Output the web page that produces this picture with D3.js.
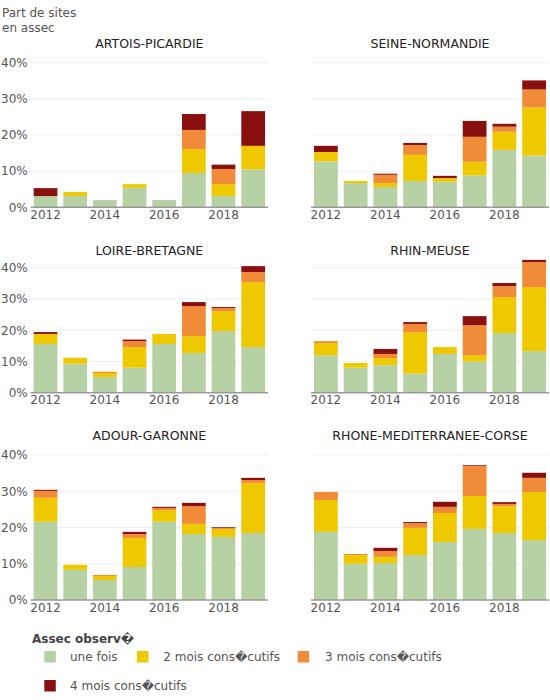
<!DOCTYPE html>
<html><head><meta charset="utf-8">
<script src="https://cdn.jsdelivr.net/npm/d3@7"></script>
<style>
body{margin:0;background:#fff;}
svg{font-family:"DejaVu Sans",Verdana,sans-serif;}
</style></head>
<body><svg id="c" width="550" height="700"></svg>
<script>
const years = [2012,2013,2014,2015,2016,2017,2018,2019];
const xTicks = [2012,2014,2016,2018];
const yTicks = [0,0.1,0.2,0.3,0.4];
const regions = ["ARTOIS-PICARDIE","SEINE-NORMANDIE","LOIRE-BRETAGNE","RHIN-MEUSE","ADOUR-GARONNE","RHONE-MEDITERRANEE-CORSE"];
const seriesNames = ["une fois","2 mois cons\uFFFDcutifs","3 mois cons\uFFFDcutifs","4 mois cons\uFFFDcutifs"];
const seriesColors = ["#b6d1a3","#efc900","#f08c38","#8a1010"];
const legendTitle = "Assec observ\uFFFD";
// values in % per region (order of regions), per year
const uneFois = [
  [3.1,3.1,2.0,5.4,2.0,9.5,3.1,10.5],
  [12.7,6.7,5.6,7.3,7.1,8.8,15.9,14.3],
  [15.6,9.3,5.0,8.0,15.6,12.7,19.7,14.6],
  [12.0,8.0,8.8,6.1,12.4,10.0,19.1,13.3],
  [21.6,8.3,5.5,9.1,21.6,18.2,17.4,18.5],
  [18.8,10.0,10.2,12.4,16.0,19.6,18.5,16.5]
];
const deuxMois = [
  [0,1.1,0,1.0,0,6.6,3.3,6.5],
  [2.6,0.6,1.1,7.2,1.0,3.8,5.0,13.3],
  [3.2,1.9,1.3,6.6,3.2,5.4,6.4,20.8],
  [3.9,1.5,2.3,13.3,2.2,2.0,11.5,20.5],
  [6.6,1.4,1.1,8.0,3.2,2.8,2.2,13.8],
  [8.8,2.4,1.7,7.5,8.0,9.1,7.4,13.3]
];
const troisMois = [
  [0,0,0,0,0,5.3,4.2,0],
  [0,0,2.3,2.7,0,6.9,1.4,5.0],
  [0,0,0.4,1.9,0,9.6,1.0,3.2],
  [0.6,0,1.3,2.6,0,9.6,3.5,8.0],
  [1.9,0,0.3,1.1,0.6,4.9,0.3,0.8],
  [2.2,0.3,1.6,1.3,1.7,8.3,0.6,3.9]
];
const quatreMois = [
  [2.2,0,0,0,0,4.4,1.2,9.6],
  [1.7,0,0.3,0.6,0.6,4.4,0.8,2.5],
  [0.6,0,0,0.5,0,1.3,0.3,1.9],
  [0,0,1.6,0.6,0,2.9,1.0,0.7],
  [0.3,0,0,0.6,0.3,0.9,0.2,0.6],
  [0,0,0.9,0.3,1.4,0.2,0.5,1.4]
];
const seriesValues = [uneFois, deuxMois, troisMois, quatreMois];

const svg = d3.select("#c");
const cols = [[30.7,268],[311,549]];
const rows = [{base:207.3, top:62.7, title:43},{base:392.7, top:267.7, title:250},{base:600, top:455, title:435.7}];
const textCol = "#555";

svg.append("text").attr("x",2).attr("y",17).attr("fill",textCol).attr("font-size",12).text("Part de sites");
svg.append("text").attr("x",2).attr("y",32).attr("fill",textCol).attr("font-size",12).text("en assec");

regions.forEach((name, ri) => {
  const col = cols[ri % 2], row = rows[Math.floor(ri / 2)];
  const x = d3.scaleBand().domain(years).range(col).paddingInner(0.2).paddingOuter(0.1);
  const y = d3.scaleLinear().domain([0, 0.4]).range([row.base, row.top]);
  const g = svg.append("g");
  // gridlines
  g.selectAll("line.grid").data(yTicks.filter(t => t > 0)).join("line")
    .attr("x1", col[0]).attr("x2", col[1])
    .attr("y1", d => y(d)).attr("y2", d => y(d))
    .attr("stroke", "#eeeeee").attr("stroke-width", 1);
  // stacked data
  const rowsData = years.map((yr, i) => {
    const o = {year: yr};
    seriesNames.forEach((s, si) => o[s] = seriesValues[si][ri][i] / 100);
    return o;
  });
  const stacked = d3.stack().keys(seriesNames)(rowsData);
  g.selectAll("g.layer").data(stacked).join("g")
    .attr("fill", (d, i) => seriesColors[i])
    .selectAll("rect").data(d => d.filter(p => p[1] - p[0] > 0)).join("rect")
    .attr("x", d => x(d.data.year)).attr("width", x.bandwidth())
    .attr("y", d => y(d[1])).attr("height", d => y(d[0]) - y(d[1]));
  // x axis
  const xa = g.append("g").attr("transform", `translate(0,${row.base})`)
    .call(d3.axisBottom(x).tickValues(xTicks).tickSize(0).tickPadding(3));
  xa.select(".domain").attr("stroke", "#999").attr("stroke-width", 1.5).attr("d", `M${col[0]},0H${col[1]}`);
  xa.selectAll("text").attr("fill", textCol).attr("font-size", 12).attr("font-family", "DejaVu Sans");
  // y axis (left column only)
  if (ri % 2 === 0) {
    const ya = g.append("g").attr("transform", `translate(${col[0]},0)`)
      .call(d3.axisLeft(y).tickValues(yTicks).tickFormat(d3.format(".0%")).tickSize(0).tickPadding(3));
    ya.select(".domain").remove();
    ya.selectAll("text").attr("fill", textCol).attr("font-size", 12).attr("font-family", "DejaVu Sans");
  }
  svg.append("text").attr("x", (col[0] + col[1]) / 2).attr("y", row.title + 4.5)
    .attr("text-anchor", "middle").attr("font-size", 12.5).attr("fill", "#222").text(name);
});

// legend
svg.append("text").attr("x", 32).attr("y", 642.5).attr("font-size", 12).attr("font-weight", "bold").attr("fill", "#444").text(legendTitle);
const legPos = [[44.3,651,70],[137,651,163.3],[297.7,651,325],[44.3,680,70]];
seriesNames.forEach((s, i) => {
  const p = legPos[i];
  svg.append("rect").attr("x", p[0]).attr("y", p[1]).attr("width", 11.5).attr("height", 11.5).attr("fill", seriesColors[i]);
  svg.append("text").attr("x", p[2]).attr("y", p[1] + 10).attr("font-size", 12).attr("fill", textCol).text(s);
});
</script></body></html>
